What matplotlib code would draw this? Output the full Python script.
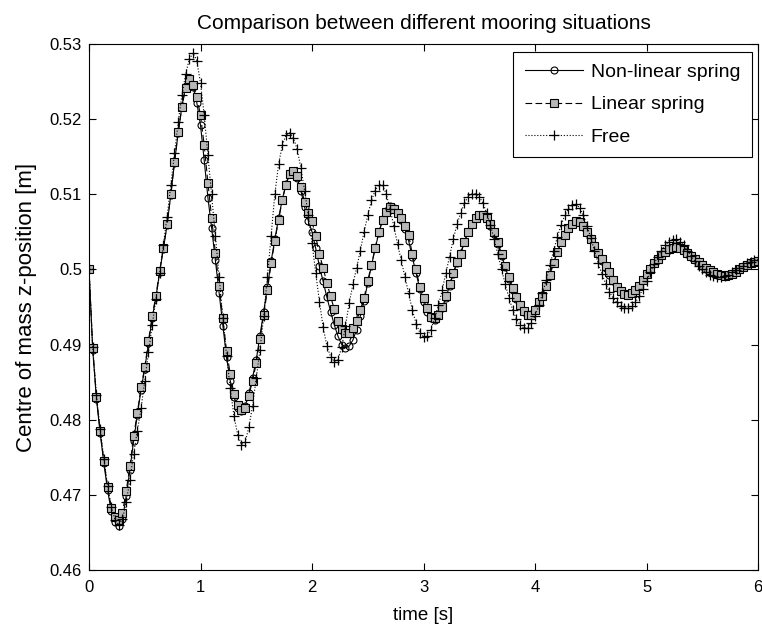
import matplotlib

matplotlib.use("Agg")

import matplotlib.pyplot as plt
import numpy as np

# sample spacing (about 30 samples per second)
TIME_STEP = 1.0 / 30.0

non_linear_spring = [
    0.5000, 0.4893, 0.4828, 0.4782, 0.4742, 0.4706, 0.4678, 0.4664, 0.4659, 0.4668,
    0.4698, 0.4733, 0.4772, 0.4806, 0.4840, 0.4868, 0.4902, 0.4935, 0.4963, 0.4996,
    0.5027, 0.5059, 0.5099, 0.5142, 0.5182, 0.5217, 0.5244, 0.5255, 0.5243, 0.5222,
    0.5192, 0.5145, 0.5095, 0.5055, 0.5012, 0.4968, 0.4925, 0.4883, 0.4852, 0.4830,
    0.4816, 0.4812, 0.4818, 0.4835, 0.4856, 0.4880, 0.4912, 0.4944, 0.4976, 0.5011,
    0.5040, 0.5068, 0.5093, 0.5114, 0.5128, 0.5131, 0.5122, 0.5105, 0.5083, 0.5065,
    0.5050, 0.5028, 0.5004, 0.4984, 0.4963, 0.4944, 0.4926, 0.4911, 0.4900, 0.4896,
    0.4898, 0.4906, 0.4920, 0.4938, 0.4958, 0.4982, 0.5005, 0.5028, 0.5049, 0.5066,
    0.5078, 0.5084, 0.5082, 0.5075, 0.5066, 0.5054, 0.5038, 0.5016, 0.4995, 0.4974,
    0.4957, 0.4944, 0.4935, 0.4933, 0.4938, 0.4948, 0.4962, 0.4978, 0.4994, 0.5009,
    0.5022, 0.5037, 0.5050, 0.5061, 0.5068, 0.5072, 0.5072, 0.5067, 0.5058, 0.5047,
    0.5034, 0.5018, 0.5003, 0.4987, 0.4973, 0.4961, 0.4951, 0.4944, 0.4940, 0.4941,
    0.4947, 0.4956, 0.4966, 0.4979, 0.4994, 0.5009, 0.5023, 0.5036, 0.5047, 0.5055,
    0.5061, 0.5063, 0.5062, 0.5057, 0.5049, 0.5040, 0.5030, 0.5020, 0.5011, 0.5002,
    0.4993, 0.4985, 0.4977, 0.4971, 0.4967, 0.4966, 0.4968, 0.4972, 0.4978, 0.4986,
    0.4994, 0.5001, 0.5008, 0.5014, 0.5019, 0.5023, 0.5026, 0.5028, 0.5029, 0.5028,
    0.5025, 0.5021, 0.5017, 0.5013, 0.5009, 0.5005, 0.5001, 0.4998, 0.4995, 0.4993,
    0.4992, 0.4991, 0.4992, 0.4994, 0.4997, 0.5000, 0.5003, 0.5006, 0.5008, 0.5010,
    0.5011,
]

linear_spring = [
    0.5000, 0.4895, 0.4830, 0.4785, 0.4745, 0.4710, 0.4682, 0.4670, 0.4666, 0.4676,
    0.4705, 0.4738, 0.4778, 0.4809, 0.4843, 0.4870, 0.4905, 0.4938, 0.4965, 0.4998,
    0.5028, 0.5060, 0.5100, 0.5143, 0.5183, 0.5216, 0.5242, 0.5253, 0.5246, 0.5230,
    0.5205, 0.5165, 0.5115, 0.5068, 0.5022, 0.4978, 0.4935, 0.4892, 0.4861, 0.4834,
    0.4819, 0.4813, 0.4816, 0.4832, 0.4852, 0.4875, 0.4908, 0.4940, 0.4972, 0.5008,
    0.5038, 0.5066, 0.5092, 0.5113, 0.5127, 0.5131, 0.5124, 0.5110, 0.5090, 0.5075,
    0.5064, 0.5044, 0.5020, 0.5002, 0.4982, 0.4964, 0.4947, 0.4932, 0.4921, 0.4915,
    0.4916, 0.4922, 0.4931, 0.4946, 0.4962, 0.4985, 0.5006, 0.5029, 0.5050, 0.5066,
    0.5077, 0.5083, 0.5081, 0.5075, 0.5068, 0.5058, 0.5046, 0.5020, 0.5000, 0.4977,
    0.4962, 0.4948, 0.4937, 0.4935, 0.4940, 0.4950, 0.4964, 0.4980, 0.4995, 0.5010,
    0.5021, 0.5036, 0.5050, 0.5061, 0.5068, 0.5072, 0.5073, 0.5069, 0.5060, 0.5050,
    0.5037, 0.5020, 0.5005, 0.4990, 0.4975, 0.4963, 0.4952, 0.4945, 0.4940, 0.4940,
    0.4946, 0.4956, 0.4965, 0.4978, 0.4993, 0.5008, 0.5023, 0.5036, 0.5046, 0.5055,
    0.5061, 0.5064, 0.5063, 0.5058, 0.5050, 0.5040, 0.5031, 0.5022, 0.5014, 0.5004,
    0.4996, 0.4986, 0.4977, 0.4971, 0.4967, 0.4966, 0.4968, 0.4972, 0.4978, 0.4986,
    0.4994, 0.5001, 0.5008, 0.5014, 0.5019, 0.5023, 0.5027, 0.5029, 0.5030, 0.5029,
    0.5026, 0.5022, 0.5018, 0.5014, 0.5010, 0.5006, 0.5002, 0.4999, 0.4996, 0.4994,
    0.4992, 0.4991, 0.4992, 0.4994, 0.4997, 0.5000, 0.5003, 0.5006, 0.5008, 0.5010,
    0.5011,
]

free = [
    0.5000, 0.4897, 0.4833, 0.4788, 0.4748, 0.4712, 0.4684, 0.4667, 0.4660, 0.4668,
    0.4690, 0.4720, 0.4755, 0.4785, 0.4815, 0.4852, 0.4890, 0.4926, 0.4960, 0.4995,
    0.5032, 0.5070, 0.5112, 0.5155, 0.5196, 0.5232, 0.5260, 0.5280, 0.5288, 0.5278,
    0.5248, 0.5205, 0.5152, 0.5100, 0.5045, 0.4990, 0.4936, 0.4885, 0.4842, 0.4805,
    0.4780, 0.4767, 0.4770, 0.4790, 0.4818, 0.4855, 0.4893, 0.4938, 0.4990, 0.5045,
    0.5100, 0.5140, 0.5165, 0.5179, 0.5182, 0.5175, 0.5160, 0.5135, 0.5105, 0.5072,
    0.5035, 0.4995, 0.4957, 0.4923, 0.4898, 0.4884, 0.4877, 0.4880, 0.4897, 0.4925,
    0.4955, 0.4980, 0.5002, 0.5025, 0.5050, 0.5072, 0.5092, 0.5105, 0.5113, 0.5112,
    0.5100, 0.5080, 0.5058, 0.5034, 0.5012, 0.4990, 0.4968, 0.4946, 0.4928, 0.4916,
    0.4910, 0.4912, 0.4920, 0.4935, 0.4952, 0.4972, 0.4995, 0.5017, 0.5040, 0.5060,
    0.5075, 0.5088, 0.5097, 0.5101, 0.5101, 0.5097, 0.5088, 0.5075, 0.5059, 0.5040,
    0.5020, 0.5000, 0.4980, 0.4962, 0.4946, 0.4934, 0.4926, 0.4922, 0.4922, 0.4929,
    0.4938, 0.4952, 0.4968, 0.4986, 0.5006, 0.5025, 0.5043, 0.5059, 0.5072, 0.5081,
    0.5086, 0.5087, 0.5082, 0.5072, 0.5058, 0.5042, 0.5025, 0.5008, 0.4994, 0.4981,
    0.4970, 0.4962, 0.4956, 0.4951, 0.4949, 0.4948, 0.4951, 0.4956, 0.4964, 0.4974,
    0.4985, 0.4996, 0.5007, 0.5017, 0.5025, 0.5032, 0.5037, 0.5039, 0.5040, 0.5037,
    0.5032, 0.5025, 0.5018, 0.5011, 0.5005, 0.5000, 0.4996, 0.4993, 0.4991, 0.4990,
    0.4990, 0.4991, 0.4993, 0.4996, 0.4999, 0.5002, 0.5005, 0.5008, 0.5010, 0.5012,
    0.5013,
]

series_labels = ["Non-linear spring", "Linear spring", "Free"]
x_ticks = [0, 1, 2, 3, 4, 5, 6]
y_ticks = [0.46, 0.47, 0.48, 0.49, 0.50, 0.51, 0.52, 0.53]
y_tick_labels = ["0.46", "0.47", "0.48", "0.49", "0.5", "0.51", "0.52", "0.53"]


def main() -> None:
    plt.rcParams["font.family"] = ["Liberation Sans", "DejaVu Sans"]
    plt.rcParams["font.size"] = 12

    time = np.arange(len(non_linear_spring)) * TIME_STEP

    fig = plt.figure(figsize=(7.62, 6.36), dpi=100)
    axis = fig.add_axes([0.1168, 0.1038, 0.878, 0.827])

    axis.plot(time, non_linear_spring, color="black", linestyle="-", linewidth=0.8,
              marker="o", markersize=5, markerfacecolor="none", markeredgecolor="black",
              markeredgewidth=0.8, label=series_labels[0])
    axis.plot(time, linear_spring, color="black", linestyle="--", linewidth=0.8, dashes=(6, 3),
              marker="s", markersize=5.2, markerfacecolor="#b8b8b8", markeredgecolor="black",
              markeredgewidth=0.8, label=series_labels[1])
    axis.plot(time, free, color="black", linestyle=":", linewidth=0.8,
              marker="+", markersize=6.5, markeredgecolor="black",
              markeredgewidth=0.9, label=series_labels[2])

    axis.set_xlim(0, 6)
    axis.set_ylim(0.46, 0.53)
    axis.set_xticks(x_ticks)
    axis.set_yticks(y_ticks)
    axis.set_yticklabels(y_tick_labels)
    axis.tick_params(direction="in", length=5, width=0.8, top=True, right=True,
                     labelsize=12, pad=5)
    axis.tick_params(axis="x", pad=7)
    for spine in axis.spines.values():
        spine.set_linewidth(0.8)

    axis.set_title("Comparison between different mooring situations", fontsize=15, pad=11)
    axis.set_xlabel("time [s]", fontsize=13.5, labelpad=9)
    axis.set_ylabel("Centre of mass z-position [m]", fontsize=16, labelpad=9)

    legend = axis.legend(loc="upper right", bbox_to_anchor=(0.991, 0.985), fancybox=False,
                         framealpha=1.0, edgecolor="black", fontsize=14, handlelength=3.0,
                         borderpad=0.6, labelspacing=0.75, handletextpad=0.4,
                         borderaxespad=0.0)
    legend.get_frame().set_linewidth(0.8)

    fig.savefig("out.png", dpi=100)
    plt.close(fig)


if __name__ == "__main__":
    main()
